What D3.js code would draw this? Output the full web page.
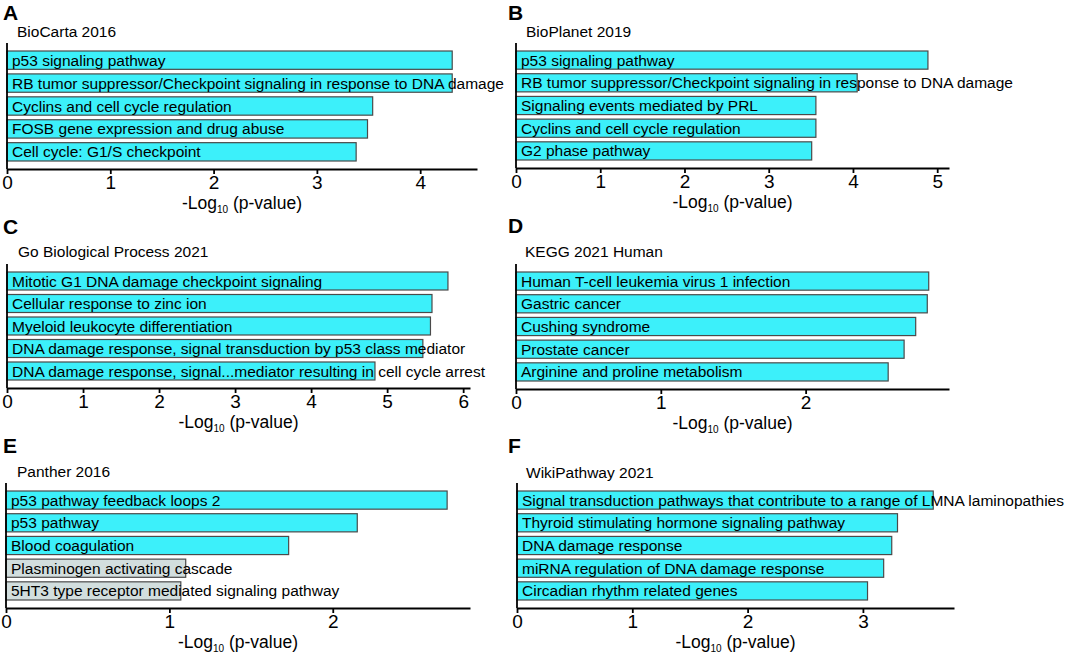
<!DOCTYPE html>
<html>
<head>
<meta charset="utf-8">
<script src="https://cdn.jsdelivr.net/npm/d3@7"></script>
<style>
  body { margin: 0; background: #fff; }
  svg { font-family: "Liberation Sans", Arial, sans-serif; }
  .axis path, .axis line { stroke: #000; stroke-width: 1.8px; }
  .axis text { font-size: 19px; fill: #000; }
</style>
</head>
<body>
<svg id="chart" width="1065" height="654"></svg>
<script>
// Data: enrichment terms and -log10(p) per library
const aTerms = ['p53 signaling pathway', 'RB tumor suppressor/Checkpoint signaling in response to DNA damage', 'Cyclins and cell cycle regulation', 'FOSB gene expression and drug abuse', 'Cell cycle: G1/S checkpoint'];
const aValues = [4.31, 4.31, 3.54, 3.49, 3.38];

const bTerms = ['p53 signaling pathway', 'RB tumor suppressor/Checkpoint signaling in response to DNA damage', 'Signaling events mediated by PRL', 'Cyclins and cell cycle regulation', 'G2 phase pathway'];
const bValues = [4.89, 4.05, 3.56, 3.56, 3.51];

const cTerms = ['Mitotic G1 DNA damage checkpoint signaling', 'Cellular response to zinc ion', 'Myeloid leukocyte differentiation', 'DNA damage response, signal transduction by p53 class mediator', 'DNA damage response, signal...mediator resulting in cell cycle arrest'];
const cValues = [5.80, 5.59, 5.57, 5.47, 4.84];

const dTerms = ['Human T-cell leukemia virus 1 infection', 'Gastric cancer', 'Cushing syndrome', 'Prostate cancer', 'Arginine and proline metabolism'];
const dValues = [2.85, 2.84, 2.76, 2.68, 2.57];

const eTerms = ['p53 pathway feedback loops 2', 'p53 pathway', 'Blood coagulation', 'Plasminogen activating cascade', '5HT3 type receptor mediated signaling pathway'];
const eValues = [2.70, 2.15, 1.73, 1.10, 1.07];
const eSignificant = [true, true, true, false, false];

const fTerms = ['Signal transduction pathways that contribute to a range of LMNA laminopathies', 'Thyroid stimulating hormone signaling pathway', 'DNA damage response', 'miRNA regulation of DNA damage response', 'Circadian rhythm related genes'];
const fValues = [3.61, 3.30, 3.25, 3.18, 3.04];

const panels = [
  {letter: 'A', title: 'BioCarta 2016', terms: aTerms, values: aValues, xMax: 4.55,
   lx: 3, ly: 20, tx: 17, ty: 37, x0: 7, x1: 477, top: 43, bottom: 169},
  {letter: 'B', title: 'BioPlanet 2019', terms: bTerms, values: bValues, xMax: 5.14,
   lx: 508, ly: 20, tx: 526, ty: 37, x0: 516, x1: 949, top: 43, bottom: 168},
  {letter: 'C', title: 'Go Biological Process 2021', terms: cTerms, values: cValues, xMax: 6.09,
   lx: 3, ly: 234, tx: 18, ty: 257, x0: 7, x1: 470, top: 264, bottom: 388},
  {letter: 'D', title: 'KEGG 2021 Human', terms: dTerms, values: dValues, xMax: 2.99,
   lx: 508, ly: 233, tx: 525, ty: 257, x0: 516, x1: 949, top: 264, bottom: 389},
  {letter: 'E', title: 'Panther 2016', terms: eTerms, values: eValues, sig: eSignificant, xMax: 2.84,
   lx: 3, ly: 453, tx: 17, ty: 477, x0: 6, x1: 470, top: 483, bottom: 608},
  {letter: 'F', title: 'WikiPathway 2021', terms: fTerms, values: fValues, xMax: 3.79,
   lx: 508, ly: 453, tx: 526, ty: 478, x0: 517, x1: 954, top: 483, bottom: 608}
];

const svg = d3.select('#chart');

panels.forEach(p => {
  const g = svg.append('g');

  const data = p.terms.map((t, i) => ({
    term: t,
    value: p.values[i],
    sig: p.sig ? p.sig[i] : true
  }));

  const scaleX = d3.scaleLinear().domain([0, p.xMax]).range([p.x0, p.x1]);
  const scaleY = d3.scaleBand()
    .domain(p.terms)
    .range([p.top + 8, p.bottom - 8])
    .paddingInner(0.2)
    .paddingOuter(0);

  // panel letter + library title
  g.append('text')
    .attr('x', p.lx).attr('y', p.ly)
    .style('font-size', '21px').style('font-weight', 'bold')
    .text(p.letter);
  g.append('text')
    .attr('x', p.tx).attr('y', p.ty)
    .style('font-size', '15.5px')
    .text(p.title);

  // bars
  g.selectAll('.bar')
    .data(data)
    .enter().append('rect')
    .attr('class', 'bar')
    .attr('x', scaleX(0))
    .attr('y', d => scaleY(d.term))
    .attr('width', d => scaleX(d.value) - scaleX(0))
    .attr('height', scaleY.bandwidth())
    .style('fill', d => d.sig ? '#3cf0fa' : '#d2dede')
    .style('stroke', '#4a4a4a')
    .style('stroke-width', 1.2);

  g.selectAll('.label')
    .data(data)
    .enter().append('text')
    .attr('class', 'label')
    .attr('x', scaleX(0) + 5)
    .attr('y', d => scaleY(d.term) + scaleY.bandwidth() / 2)
    .attr('dy', '0.36em')
    .style('font-size', '15.5px')
    .text(d => d.term);

  // axes
  const axisX = d3.axisBottom(scaleX)
    .tickValues(d3.range(0, Math.floor(p.xMax) + 1))
    .tickFormat(d3.format('d'))
    .tickSizeInner(5)
    .tickSizeOuter(0)
    .tickPadding(2);
  g.append('g')
    .attr('class', 'axis axis-x')
    .attr('transform', `translate(0,${p.bottom})`)
    .call(axisX);

  g.append('line')
    .attr('class', 'axis-y')
    .attr('x1', p.x0).attr('x2', p.x0)
    .attr('y1', p.top).attr('y2', p.bottom)
    .style('stroke', '#000').style('stroke-width', 1.8);

  const title = g.append('text')
    .attr('x', (p.x0 + p.x1) / 2)
    .attr('y', p.bottom + 40)
    .attr('text-anchor', 'middle')
    .style('font-size', '17.5px');
  title.append('tspan').text('-Log');
  title.append('tspan').attr('dy', 4).style('font-size', '10px').text('10');
  title.append('tspan').attr('dy', -4).text(' (p-value)');
});
</script>
</body>
</html>
